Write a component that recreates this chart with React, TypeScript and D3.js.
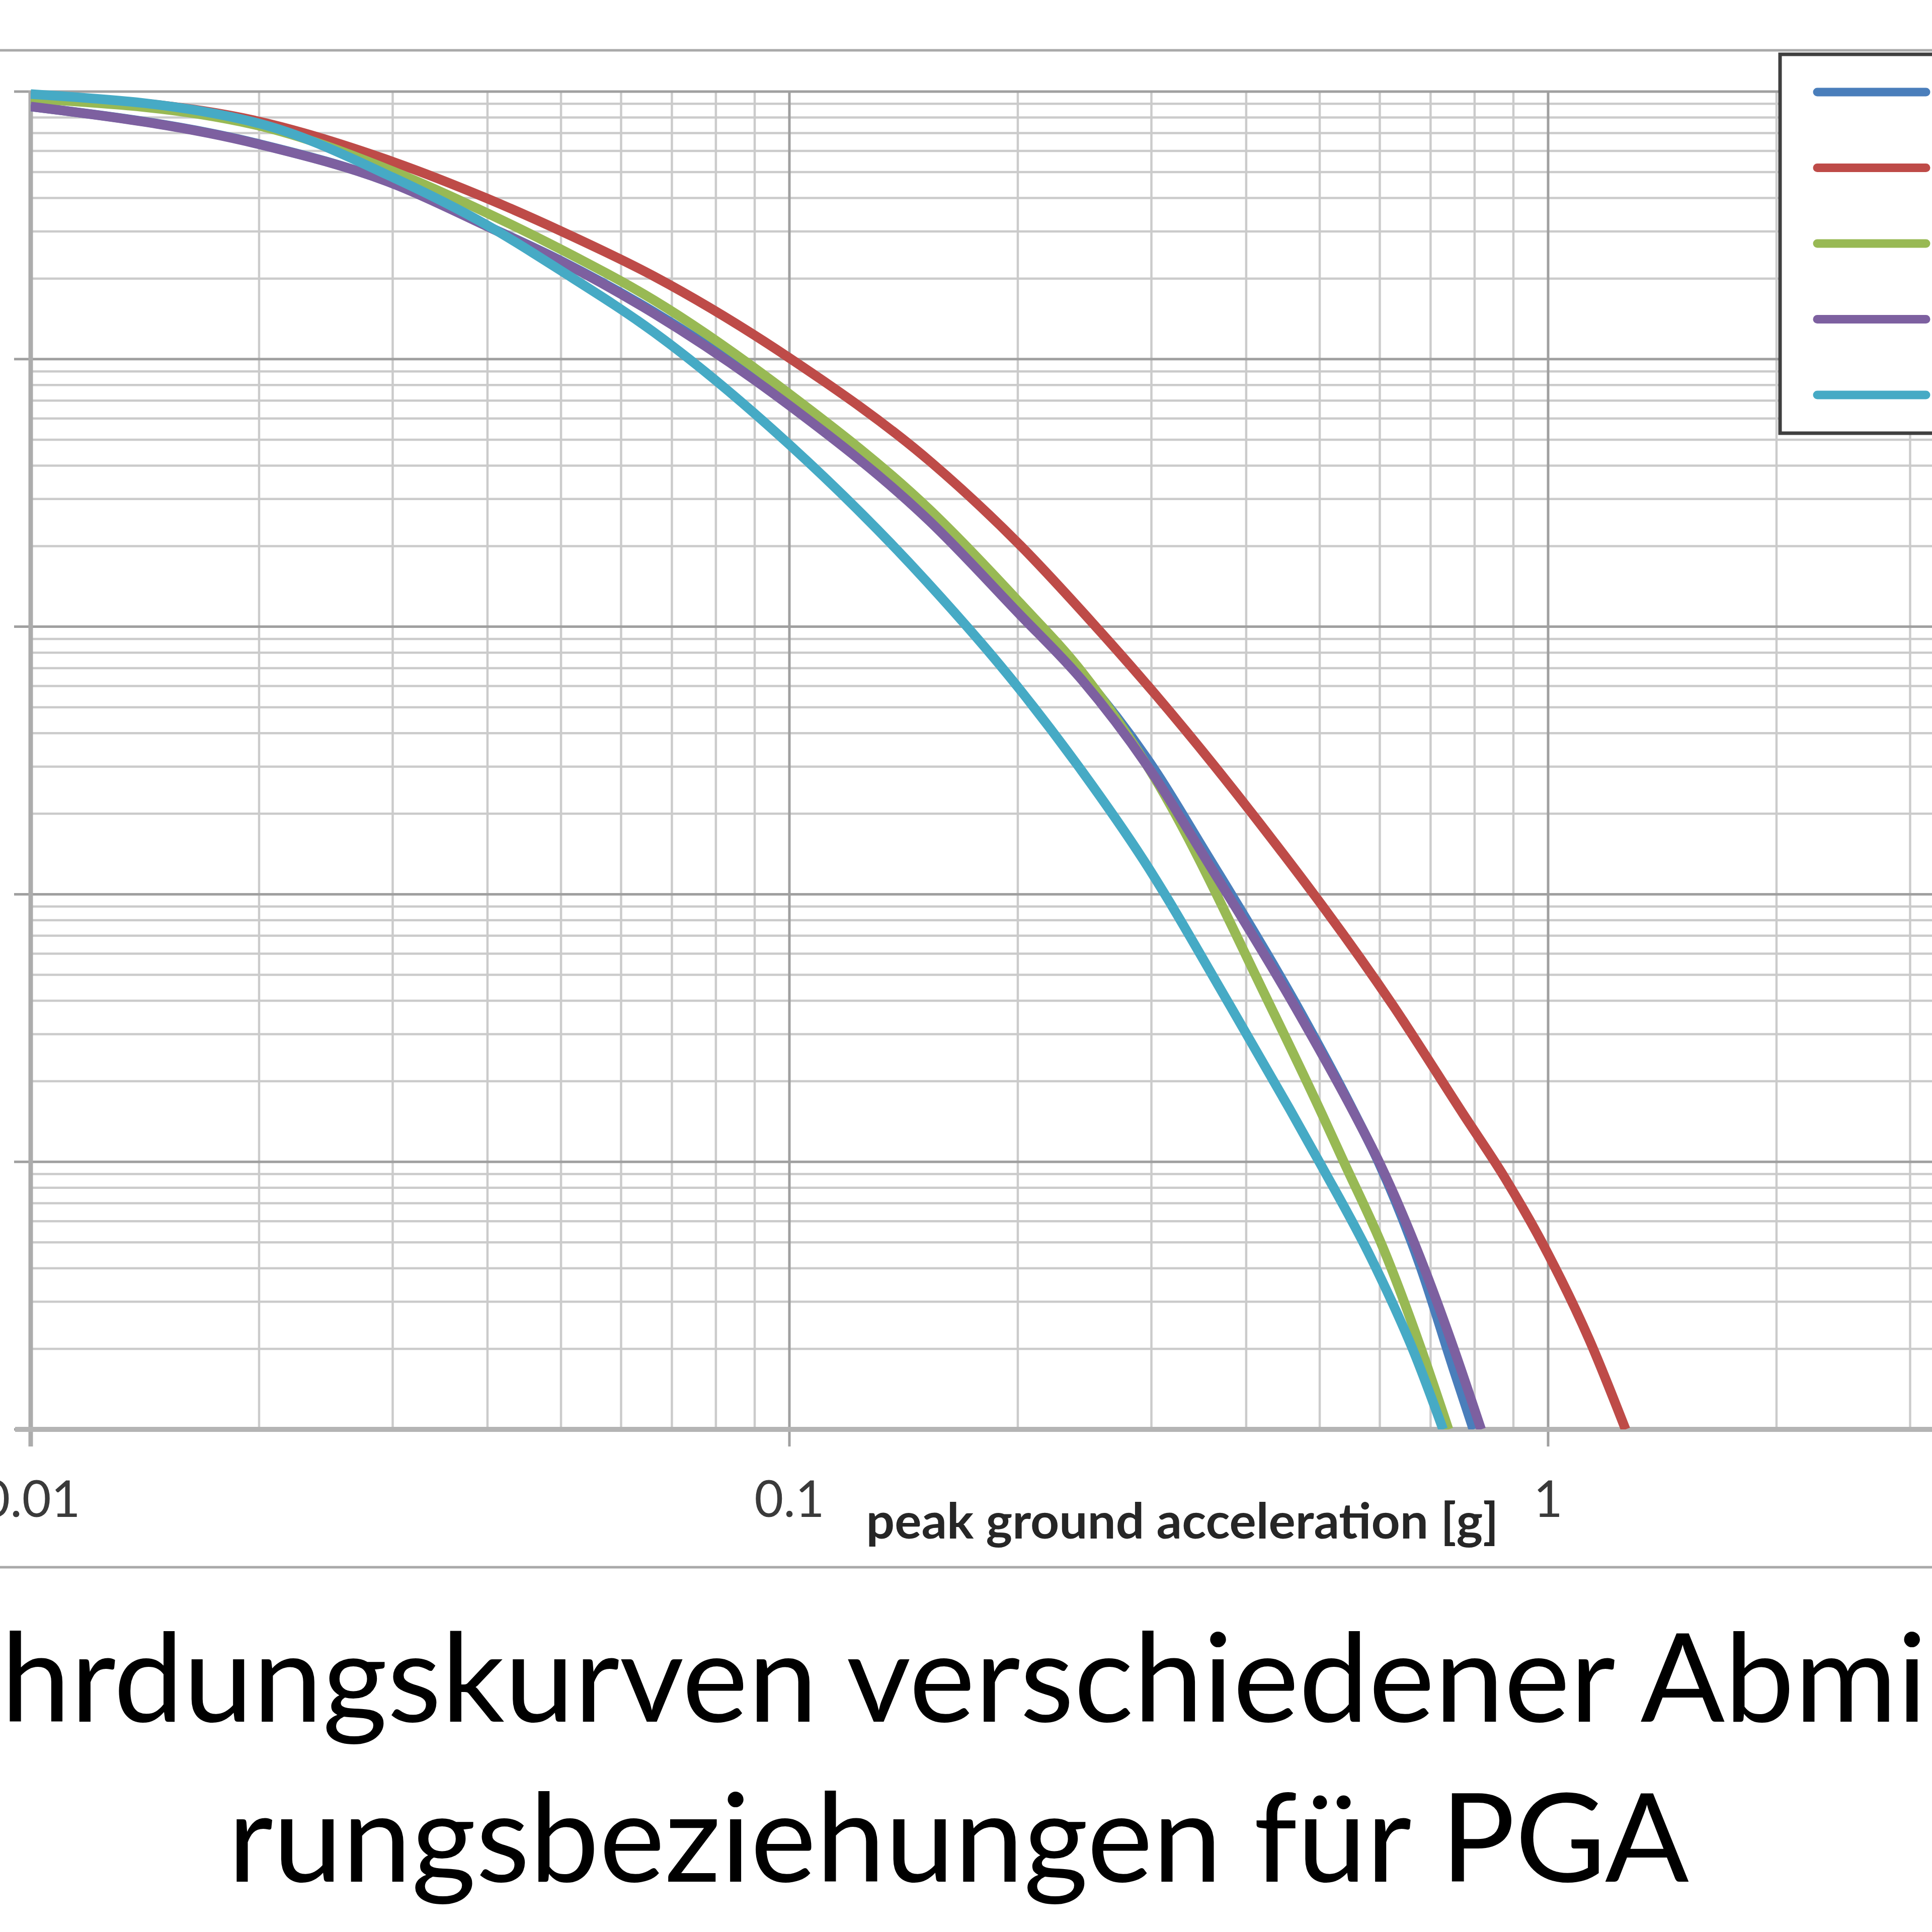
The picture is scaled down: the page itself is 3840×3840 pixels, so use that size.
import React from 'react';
import * as d3 from 'd3';

// ---- data (peak ground acceleration [g] vs. annual rate of exceedance) ----
const pgaBlue = [0.01, 0.02, 0.03, 0.04, 0.05, 0.0663, 0.1, 0.1528, 0.2006, 0.2431, 0.303, 0.3513, 0.4631, 0.5563, 0.5986, 0.6785, 0.7494, 0.797];
const rateBlue = [0.0879, 0.0637, 0.0454, 0.0314, 0.0233, 0.015, 0.00684, 0.00258, 0.00117, 6.64e-4, 2.92e-4, 1.48e-4, 3.98e-5, 1.51e-5, 9.89e-6, 4.07e-6, 1.7e-6, 1.0e-6];

const pgaRed = [0.01, 0.02, 0.03, 0.04, 0.05, 0.0663, 0.1, 0.1543, 0.2006, 0.2519, 0.303, 0.4144, 0.6249, 0.7738, 0.877, 1.0, 1.1334, 1.265];
const rateRed = [0.0966, 0.0773, 0.0547, 0.0398, 0.0301, 0.0204, 0.0101, 0.00408, 0.00204, 0.00102, 5.62e-4, 1.88e-4, 3.83e-5, 1.5e-5, 8.71e-6, 4.52e-6, 2.16e-6, 1.0e-6];

const pgaGreen = [0.01, 0.02, 0.03, 0.04, 0.05, 0.0663, 0.1, 0.1528, 0.2006, 0.2431, 0.303, 0.4303, 0.5038, 0.5379, 0.6088, 0.6785, 0.739];
const rateGreen = [0.094, 0.0745, 0.0504, 0.0351, 0.0257, 0.0166, 0.00741, 0.00275, 0.00124, 6.76e-4, 2.72e-4, 3.83e-5, 1.5e-5, 1.0e-5, 4.62e-6, 2.04e-6, 1.0e-6];

const pgaPurple = [0.01, 0.02, 0.03, 0.04, 0.05, 0.0663, 0.1, 0.1528, 0.2006, 0.2431, 0.303, 0.3513, 0.4631, 0.5563, 0.5986, 0.6785, 0.7494, 0.816];
const ratePurple = [0.0879, 0.0635, 0.0453, 0.0313, 0.0232, 0.0148, 0.00671, 0.00249, 0.00112, 6.31e-4, 2.75e-4, 1.4e-4, 3.83e-5, 1.5e-5, 1.0e-5, 4.37e-6, 2.04e-6, 1.0e-6];

const pgaCyan = [0.01, 0.02, 0.03, 0.04, 0.05, 0.0663, 0.1, 0.1515, 0.2006, 0.2431, 0.2925, 0.3798, 0.4561, 0.5038, 0.5843, 0.6671, 0.727];
const rateCyan = [0.0979, 0.076, 0.0478, 0.0316, 0.0214, 0.0126, 0.00479, 0.00148, 5.89e-4, 2.88e-4, 1.35e-4, 3.89e-5, 1.58e-5, 9.55e-6, 4.37e-6, 1.91e-6, 1.0e-6];

const seriesColors = ['#4a7ebb', '#be4b48', '#98b954', '#7d60a0', '#46aac5'];

const xTickValues = [0.01, 0.1, 1];
const xTickLabels = ['0.01', '0.1', '1'];
const xAxisTitle = 'peak ground acceleration [g]';
const captionLine1 = 'hrdungskurven verschiedener Abmi';
const captionLine2 = 'rungsbeziehungen für PGA';

const xDomain = [0.01, 1];
const yDomain = [1e-6, 1e-1];

export default function App() {
  const W = 3840;
  const H = 3840;
  const plotLeft = 61;
  const plotTop = 182;
  const plotBottom = 2841;

  const x = d3.scaleLog().domain(xDomain).range([plotLeft, 3077]);
  const y = d3.scaleLog().domain(yDomain).range([plotBottom, plotTop]);

  const series = [
    { pga: pgaBlue, rate: rateBlue, color: seriesColors[0] },
    { pga: pgaRed, rate: rateRed, color: seriesColors[1] },
    { pga: pgaGreen, rate: rateGreen, color: seriesColors[2] },
    { pga: pgaPurple, rate: ratePurple, color: seriesColors[3] },
    { pga: pgaCyan, rate: rateCyan, color: seriesColors[4] },
  ];

  const line = d3
    .line<[number, number]>()
    .x((d) => x(d[0]))
    .y((d) => y(d[1]))
    .curve(d3.curveMonotoneX);

  // grid values (1..9 per decade)
  const xGrid: { v: number; major: boolean }[] = [];
  for (let e = -2; e <= 0; e++) {
    for (let k = 1; k <= 9; k++) {
      const v = k * Math.pow(10, e);
      if (x(v) <= W + 2) xGrid.push({ v, major: k === 1 });
    }
  }
  const yGrid: { v: number; major: boolean }[] = [];
  for (let e = -6; e <= -1; e++) {
    for (let k = 1; k <= 9; k++) {
      const v = k * Math.pow(10, e);
      if (v <= yDomain[1] * 1.0001) yGrid.push({ v, major: k === 1 });
    }
  }

  const legendTop = 183;
  const legendStep = 150.5;

  return (
    <svg
      width={W}
      height={H}
      viewBox={`0 0 ${W} ${H}`}
      style={{ position: 'absolute', left: 0, top: 0, display: 'block', background: '#fff' }}
    >
      <rect x={0} y={0} width={W} height={H} fill="#fff" />
      <defs>
        <clipPath id="plotClip">
          <rect x={plotLeft} y={0} width={W} height={plotBottom} />
        </clipPath>
      </defs>

      {/* chart frame */}
      <rect x={-20} y={100} width={W + 40} height={3015} fill="none" stroke="#a9a9a9" strokeWidth={5} />

      {/* minor grid */}
      {yGrid.filter((g) => !g.major).map((g, i) => (
        <line key={'ym' + i} x1={plotLeft} x2={W} y1={y(g.v)} y2={y(g.v)} stroke="#cbcbcb" strokeWidth={4.5} />
      ))}
      {xGrid.filter((g) => !g.major).map((g, i) => (
        <line key={'xm' + i} x1={x(g.v)} x2={x(g.v)} y1={plotTop} y2={plotBottom} stroke="#cbcbcb" strokeWidth={4.5} />
      ))}
      {/* major grid + ticks */}
      {yGrid.filter((g) => g.major).map((g, i) => (
        <line key={'yM' + i} x1={28} x2={W} y1={y(g.v)} y2={y(g.v)} stroke="#a0a0a0" strokeWidth={5} />
      ))}
      {xGrid.filter((g) => g.major).map((g, i) => (
        <line key={'xM' + i} x1={x(g.v)} x2={x(g.v)} y1={plotTop} y2={plotBottom + 34} stroke="#a0a0a0" strokeWidth={5} />
      ))}

      {/* axes */}
      <line x1={plotLeft} x2={plotLeft} y1={plotTop - 2} y2={plotBottom + 34} stroke="#acacac" strokeWidth={9} />
      <line x1={30} x2={W} y1={plotBottom} y2={plotBottom} stroke="#b4b4b4" strokeWidth={10} />

      {/* curves */}
      <g clipPath="url(#plotClip)">
        {series.map((s, i) => (
          <path
            key={'s' + i}
            d={line(s.pga.map((p, j) => [p, s.rate[j]] as [number, number])) || ''}
            fill="none"
            stroke={s.color}
            strokeWidth={19}
            strokeLinejoin="round"
            strokeLinecap="butt"
          />
        ))}
      </g>

      {/* x tick labels */}
      {xTickValues.map((v, i) => (
        <text
          key={'xt' + i}
          x={x(v)}
          y={3015}
          textAnchor="middle"
          fontFamily="Lato, 'Open Sans', sans-serif"
          fontSize={100}
          fill="#3a3a3a"
        >
          {xTickLabels[i]}
        </text>
      ))}

      {/* x axis title */}
      <text
        x={2350}
        y={3058}
        textAnchor="middle"
        fontFamily="Lato, 'Open Sans', sans-serif"
        fontWeight="bold"
        fontSize={98}
        fill="#262626"
        textLength={1257}
        lengthAdjust="spacingAndGlyphs"
      >
        {xAxisTitle}
      </text>

      {/* legend */}
      <rect x={3538} y={108} width={400} height={753} fill="#fff" stroke="#3f3f3f" strokeWidth={7} />
      {seriesColors.map((c, i) => (
        <line
          key={'lg' + i}
          x1={3612}
          x2={3828}
          y1={legendTop + i * legendStep}
          y2={legendTop + i * legendStep}
          stroke={c}
          strokeWidth={17}
          strokeLinecap="round"
        />
      ))}

      {/* caption */}
      <text
        x={2}
        y={3422}
        fontFamily="Lato, 'Open Sans', sans-serif"
        fontSize={245}
        fill="#000"
        textLength={3828}
        lengthAdjust="spacingAndGlyphs"
      >
        {captionLine1}
      </text>
      <text
        x={453}
        y={3740}
        fontFamily="Lato, 'Open Sans', sans-serif"
        fontSize={245}
        fill="#000"
        textLength={2904}
        lengthAdjust="spacingAndGlyphs"
      >
        {captionLine2}
      </text>
    </svg>
  );
}
